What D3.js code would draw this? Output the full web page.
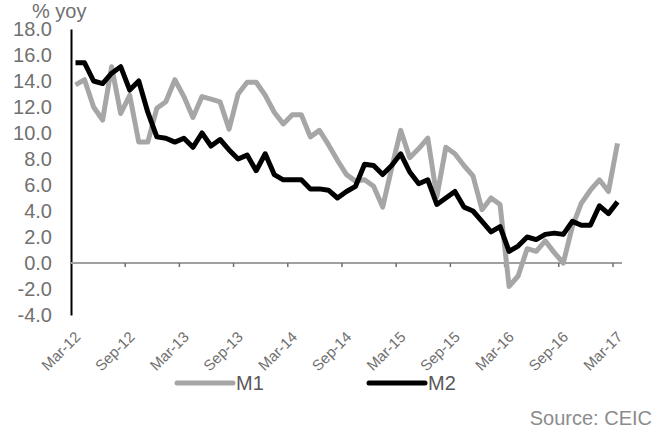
<!DOCTYPE html>
<html>
<head>
<meta charset="utf-8">
<script src="https://cdn.jsdelivr.net/npm/d3@7"></script>
<style>
  body { margin: 0; background: #fff; }
  svg { display: block; }
  text { font-family: "Liberation Sans", Arial, sans-serif; }
</style>
</head>
<body>
<svg id="chart" width="672" height="432"></svg>
<script>
// Monthly money supply growth, % yoy, Mar-2012 .. Mar-2017
const months = d3.timeMonth.range(new Date(2012, 2, 1), new Date(2017, 3, 1));

const m1 = [
  13.7, 14.1, 12.0, 11.0, 15.1, 11.5, 12.9, 9.3, 9.3, 11.9,
  12.4, 14.1, 12.8, 11.2, 12.8, 12.6, 12.4, 10.3, 13.0, 13.9,
  13.9, 12.9, 11.6, 10.7, 11.4, 11.4, 9.7, 10.2, 9.1, 7.9,
  6.8, 6.3, 6.4, 5.9, 4.3, 7.3, 10.2, 8.1, 8.8, 9.6,
  5.1, 8.9, 8.4, 7.5, 6.7, 4.1, 5.0, 4.5, -1.8, -1.0,
  1.1, 0.9, 1.7, 0.8, 0.0, 2.8, 4.6, 5.6, 6.4, 5.5,
  9.2
];

const m2 = [
  15.4, 15.4, 14.0, 13.8, 14.6, 15.1, 13.3, 14.0, 11.6, 9.7,
  9.6, 9.3, 9.6, 8.9, 10.0, 9.0, 9.5, 8.7, 8.0, 8.3,
  7.1, 8.4, 6.8, 6.4, 6.4, 6.4, 5.7, 5.7, 5.6, 5.0,
  5.5, 5.9, 7.6, 7.5, 6.8, 7.5, 8.4, 7.0, 6.1, 6.4,
  4.5, 5.0, 5.5, 4.3, 4.0, 3.2, 2.4, 2.8, 0.9, 1.3,
  2.0, 1.8, 2.2, 2.3, 2.2, 3.2, 2.9, 2.9, 4.4, 3.8,
  4.7
];

const tickLabels = ["Mar-12", "Sep-12", "Mar-13", "Sep-13", "Mar-14", "Sep-14",
                    "Mar-15", "Sep-15", "Mar-16", "Sep-16", "Mar-17"];
const yTicks = [-4, -2, 0, 2, 4, 6, 8, 10, 12, 14, 16, 18];

const seriesNames = ["M1", "M2"];
const seriesColors = ["#a6a6a6", "#000000"];

const svg = d3.select("#chart");
const plot = { left: 71, right: 622, top: 29, bottom: 315 };

const x = d3.scaleBand()
  .domain(d3.range(months.length))
  .range([plot.left, plot.right])
  .padding(0);
const cx = i => x(i) + x.bandwidth() / 2;

const y = d3.scaleLinear()
  .domain([-4, 18])
  .range([plot.bottom, plot.top]);

// Y axis (left)
const yAxis = svg.append("g")
  .attr("transform", `translate(${plot.left},0)`)
  .call(d3.axisLeft(y).tickValues(yTicks).tickSize(0).tickPadding(19)
    .tickFormat(d => d.toFixed(1)));
yAxis.select(".domain").attr("stroke", "#000").attr("stroke-width", 2);
yAxis.selectAll("text")
  .attr("fill", "#707070")
  .attr("font-size", 20)
  .attr("font-family", "Liberation Sans, Arial, sans-serif");

svg.append("text")
  .attr("x", 32).attr("y", 18)
  .attr("fill", "#707070")
  .attr("font-size", 20)
  .text("% yoy");

// X axis line at zero with tick marks between categories every 6 months
const tickIdx = d3.range(0, months.length, 6);
const xAxis = svg.append("g").attr("transform", `translate(0,${y(0)})`);
xAxis.append("line")
  .attr("x1", plot.left).attr("x2", plot.right)
  .attr("stroke", "#a0a0a0").attr("stroke-width", 2);
xAxis.selectAll("line.tick")
  .data(tickIdx.filter(i => i > 0))
  .join("line")
  .attr("class", "tick")
  .attr("x1", i => x(i)).attr("x2", i => x(i))
  .attr("y1", 0).attr("y2", 4)
  .attr("stroke", "#707070").attr("stroke-width", 1.5);

// Rotated category labels below the plot
svg.append("g")
  .selectAll("text")
  .data(tickIdx)
  .join("text")
  .attr("transform", i => `translate(${cx(i) + 2},334) rotate(-45)`)
  .attr("text-anchor", "end")
  .attr("dominant-baseline", "central")
  .attr("fill", "#707070")
  .attr("font-size", 15)
  .text((i, k) => tickLabels[k]);

// Series lines
const line = d3.line()
  .x((d, i) => cx(i))
  .y(d => y(d));

[m1, m2].forEach((vals, s) => {
  svg.append("path")
    .datum(vals)
    .attr("fill", "none")
    .attr("stroke", seriesColors[s])
    .attr("stroke-width", 5)
    .attr("stroke-linejoin", "round")
    .attr("d", line);
});

// Legend
const legendX = [177, 369];
const legend = svg.append("g");
seriesNames.forEach((name, s) => {
  legend.append("line")
    .attr("x1", legendX[s]).attr("x2", legendX[s] + 56)
    .attr("y1", 383).attr("y2", 383)
    .attr("stroke", seriesColors[s])
    .attr("stroke-width", 5)
    .attr("stroke-linecap", "round");
  legend.append("text")
    .attr("x", legendX[s] + 59).attr("y", 383)
    .attr("dominant-baseline", "central")
    .attr("fill", "#595959")
    .attr("font-size", 20)
    .text(name);
});

svg.append("text")
  .attr("x", 652).attr("y", 425)
  .attr("text-anchor", "end")
  .attr("fill", "#8c8c8c")
  .attr("font-size", 20)
  .text("Source: CEIC");
</script>
</body>
</html>
